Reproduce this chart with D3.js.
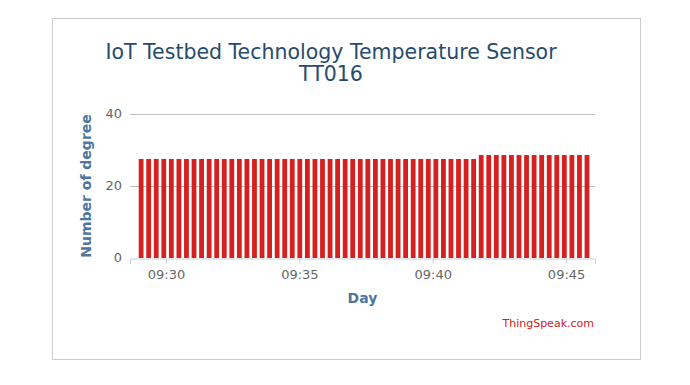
<!DOCTYPE html>
<html>
<head>
<meta charset="utf-8">
<script src="https://cdn.jsdelivr.net/npm/d3@7"></script>
<style>
  body { margin: 0; background: #fff; }
  #chart { position: absolute; left: 0; top: 0; }
</style>
</head>
<body>
<div id="chart"></div>
<script>
// readings, roughly every 17 s
const times = [
  "09:29:04", "09:29:21", "09:29:38", "09:29:55", "09:30:12", "09:30:29", "09:30:46", "09:31:03",
  "09:31:20", "09:31:37", "09:31:54", "09:32:11", "09:32:28", "09:32:45", "09:33:02", "09:33:19",
  "09:33:36", "09:33:53", "09:34:10", "09:34:27", "09:34:44", "09:35:01", "09:35:18", "09:35:35",
  "09:35:52", "09:36:09", "09:36:26", "09:36:43", "09:37:00", "09:37:17", "09:37:34", "09:37:51",
  "09:38:08", "09:38:25", "09:38:42", "09:38:59", "09:39:16", "09:39:33", "09:39:50", "09:40:07",
  "09:40:24", "09:40:41", "09:40:58", "09:41:15", "09:41:32", "09:41:49", "09:42:06", "09:42:23",
  "09:42:40", "09:42:57", "09:43:14", "09:43:31", "09:43:48", "09:44:05", "09:44:22", "09:44:39",
  "09:44:56", "09:45:13", "09:45:30", "09:45:47"
];
const temps = [
  27.5, 27.5, 27.5, 27.5, 27.5, 27.5, 27.5, 27.5,
  27.5, 27.5, 27.5, 27.5, 27.5, 27.5, 27.5, 27.5,
  27.5, 27.5, 27.5, 27.5, 27.5, 27.5, 27.5, 27.5,
  27.5, 27.5, 27.5, 27.5, 27.5, 27.5, 27.5, 27.5,
  27.5, 27.5, 27.5, 27.5, 27.5, 27.5, 27.5, 27.5,
  27.5, 27.5, 27.5, 27.5, 27.5, 28.6, 28.6, 28.6,
  28.6, 28.6, 28.6, 28.6, 28.6, 28.6, 28.6, 28.6,
  28.6, 28.6, 28.6, 28.6
];
const yTicks = [0, 20, 40];
const xTicks = ["09:30:00", "09:35:00", "09:40:00", "09:45:00"];
const xRange = ["09:28:39", "09:46:05"];

const parseTime = d3.timeParse("%H:%M:%S");
const data = times.map((t, i) => ({ time: parseTime(t), value: temps[i] }));

const W = 690, H = 385;
const plot = { left: 130, right: 595, top: 114, bottom: 258 };
const font = "'Lucida Grande', 'Lucida Sans Unicode', 'DejaVu Sans', sans-serif";

const svg = d3.select("#chart").append("svg")
  .attr("width", W)
  .attr("height", H)
  .style("font-family", font);

// outer frame
svg.append("rect")
  .attr("x", 52.5).attr("y", 18.5)
  .attr("width", 588).attr("height", 341)
  .attr("fill", "#fff")
  .attr("stroke", "#cccccc");

const x = d3.scaleTime()
  .domain(xRange.map(parseTime))
  .range([plot.left, plot.right]);

const y = d3.scaleLinear()
  .domain([0, 40])
  .range([plot.bottom, plot.top]);

// grid
svg.append("g")
  .selectAll("line")
  .data(yTicks.filter(d => d > 0))
  .join("line")
  .attr("x1", plot.left).attr("x2", plot.right)
  .attr("y1", d => Math.round(y(d)) + 0.5)
  .attr("y2", d => Math.round(y(d)) + 0.5)
  .attr("stroke", "#c0c0c0");

// y labels
svg.append("g")
  .selectAll("text")
  .data(yTicks)
  .join("text")
  .attr("x", plot.left - 8)
  .attr("y", d => y(d) + 4)
  .attr("text-anchor", "end")
  .attr("fill", "#666")
  .style("font-size", "13px")
  .text(d => d);

// bars
const barW = 4.8;
svg.append("g")
  .selectAll("rect")
  .data(data)
  .join("rect")
  .attr("x", d => x(d.time) - barW / 2)
  .attr("y", d => y(d.value))
  .attr("width", barW)
  .attr("height", d => y(0) - y(d.value))
  .attr("fill", "#d62020");

// x axis
const xAxis = d3.axisBottom(x)
  .tickValues(xTicks.map(parseTime))
  .tickFormat(d3.timeFormat("%H:%M"))
  .tickSize(5)
  .tickPadding(6);

const gx = svg.append("g")
  .attr("transform", `translate(0,${plot.bottom + 0.5})`)
  .call(xAxis);
gx.select(".domain").attr("stroke", "#c0d0e0");
gx.selectAll(".tick line").attr("stroke", "#c0d0e0");
gx.selectAll(".tick text")
  .attr("fill", "#666")
  .style("font-size", "13px")
  .style("font-family", font);

// axis titles
svg.append("text")
  .attr("x", (plot.left + plot.right) / 2)
  .attr("y", 303)
  .attr("text-anchor", "middle")
  .attr("fill", "#4d759e")
  .style("font-size", "14px")
  .style("font-weight", "bold")
  .text("Day");

svg.append("text")
  .attr("transform", `translate(91,${(plot.top + plot.bottom) / 2}) rotate(-90)`)
  .attr("text-anchor", "middle")
  .attr("fill", "#4d759e")
  .style("font-size", "14px")
  .style("font-weight", "bold")
  .text("Number of degree");

// title
svg.append("text")
  .attr("x", 331)
  .attr("y", 59)
  .attr("text-anchor", "middle")
  .attr("fill", "#274b6d")
  .style("font-size", "20.5px")
  .text("IoT Testbed Technology Temperature Sensor");

svg.append("text")
  .attr("x", 331)
  .attr("y", 81)
  .attr("text-anchor", "middle")
  .attr("fill", "#274b6d")
  .style("font-size", "20.5px")
  .text("TT016");

// credits
svg.append("text")
  .attr("x", 594)
  .attr("y", 327)
  .attr("text-anchor", "end")
  .attr("fill", "#d62020")
  .style("font-size", "11px")
  .text("ThingSpeak.com");
</script>
</body>
</html>
